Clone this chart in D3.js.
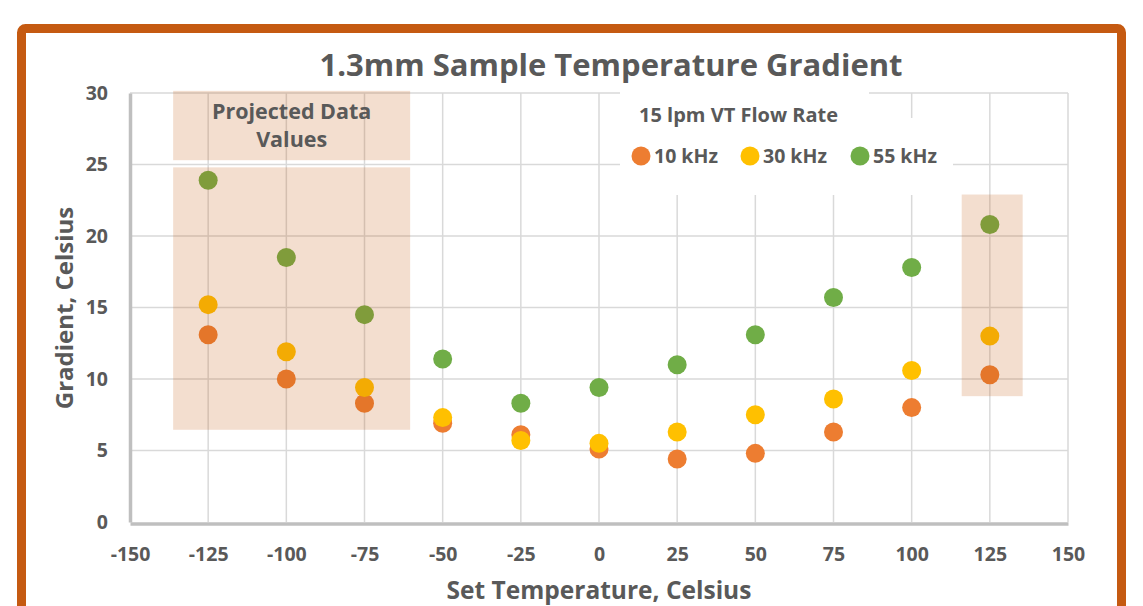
<!DOCTYPE html>
<html><head><meta charset="utf-8">
<script src="https://cdn.jsdelivr.net/npm/d3@7"></script>
<style>html,body{margin:0;padding:0;background:#fff;overflow:hidden}</style>
</head><body>
<svg id="c" width="1143" height="606"></svg>
<script>
const temps = [-125,-100,-75,-50,-25,0,25,50,75,100,125];
const g10 = [13.1,10.0,8.3,6.9,6.1,5.1,4.4,4.8,6.3,8.0,10.3];
const g30 = [15.2,11.9,9.4,7.3,5.7,5.5,6.3,7.5,8.6,10.6,13.0];
const g55 = [23.9,18.5,14.5,11.4,8.3,9.4,11.0,13.1,15.7,17.8,20.8];
const seriesNames = ["10 kHz","30 kHz","55 kHz"];
const seriesColors = ["#ED7D31","#FFC000","#70AD47"];
const xTicks = [-150,-125,-100,-75,-50,-25,0,25,50,75,100,125,150];
const yTicks = [0,5,10,15,20,25,30];
const title = "1.3mm Sample Temperature Gradient";
const legendTitle = "15 lpm VT Flow Rate";
const xLabel = "Set Temperature, Celsius";
const yLabel = "Gradient, Celsius";
// projected-data highlight regions (data units)
const projRegions = [
  {x0:-136.2,x1:-60.4,y0:6.45,y1:24.8},
  {x0:116,x1:135.5,y0:8.8,y1:22.9}
];
const projBox = {x0:-136.2,x1:-60.4,y0:25.3,y1:30.15};

const font = "'Open Sans', sans-serif";
const gray = "#595959";
const svg = d3.select("#c");
svg.append("rect").attr("x",21.5).attr("y",28.5).attr("width",1100).attr("height",640)
  .attr("rx",4).attr("fill","#fff").attr("stroke","#C55A11").attr("stroke-width",9);

const x = d3.scaleLinear().domain([-150,150]).range([130,1068]);
const y = d3.scaleLinear().domain([0,30]).range([522,93]);

// gridlines
const g = svg.append("g");
g.selectAll(".vg").data(xTicks.slice(1)).join("line")
  .attr("x1",d=>x(d)).attr("x2",d=>x(d)).attr("y1",y(30)).attr("y2",y(0))
  .attr("stroke","#D9D9D9").attr("stroke-width",1.5);
g.selectAll(".hg").data(yTicks.slice(1)).join("line")
  .attr("x1",x(-150)).attr("x2",x(150)).attr("y1",d=>y(d)).attr("y2",d=>y(d))
  .attr("stroke","#D9D9D9").attr("stroke-width",1.5);

// axes
const fmt = d => String(d);
const xAxis = d3.axisBottom(x).tickValues(xTicks).tickSize(0).tickPadding(25).tickFormat(fmt);
const yAxis = d3.axisLeft(y).tickValues(yTicks).tickSize(0).tickPadding(22).tickFormat(fmt);
const gx = svg.append("g").attr("transform",`translate(0,${y(0)})`).call(xAxis);
const gy = svg.append("g").attr("transform",`translate(${x(-150)},0)`).call(yAxis);
[gx,gy].forEach(a=>{
  a.select(".domain").attr("stroke","#BFBFBF").attr("stroke-width",3.5);
  a.selectAll("text").attr("font-family",font).attr("font-weight","bold")
   .attr("font-size",19.5).attr("fill",gray);
});
gx.select(".domain").attr("transform","translate(0,1.5)");

// points
const seriesData = [g10,g30,g55];
seriesData.forEach((vals,si)=>{
  svg.append("g").selectAll("circle").data(temps.map((t,i)=>({t,v:vals[i]}))).join("circle")
    .attr("cx",d=>x(d.t)).attr("cy",d=>y(d.v)).attr("r",9.5).attr("fill",seriesColors[si]);
});

// projected regions overlay
svg.append("g").selectAll("rect").data(projRegions.concat([projBox])).join("rect")
  .attr("x",d=>x(d.x0)).attr("y",d=>y(d.y1)).attr("width",d=>x(d.x1)-x(d.x0)).attr("height",d=>y(d.y0)-y(d.y1))
  .attr("fill","#C55A11").attr("fill-opacity",0.2);
const pcx = (x(projBox.x0)+x(projBox.x1))/2;
svg.append("text").attr("x",pcx).attr("y",119).attr("text-anchor","middle")
  .attr("font-family",font).attr("font-weight","bold").attr("font-size",21.5).attr("fill",gray).text("Projected Data");
svg.append("text").attr("x",pcx).attr("y",147).attr("text-anchor","middle")
  .attr("font-family",font).attr("font-weight","bold").attr("font-size",21.5).attr("fill",gray).text("Values");

// legend
svg.append("rect").attr("x",620).attr("y",92).attr("width",249).attr("height",103).attr("fill","#fff");
svg.append("rect").attr("x",620).attr("y",118).attr("width",333).attr("height",77).attr("fill","#fff");
svg.append("text").attr("x",639).attr("y",122).attr("font-family",font).attr("font-weight","bold")
  .attr("font-size",20).attr("fill",gray).text(legendTitle);
const lx = [641,750,860];
seriesNames.forEach((n,i)=>{
  svg.append("circle").attr("cx",lx[i]).attr("cy",156).attr("r",9.5).attr("fill",seriesColors[i]);
  svg.append("text").attr("x",lx[i]+13).attr("y",163).attr("font-family",font).attr("font-weight","bold")
    .attr("font-size",19.5).attr("fill",gray).text(n);
});

// titles
svg.append("text").attr("x",611).attr("y",76).attr("text-anchor","middle").attr("font-family",font)
  .attr("font-weight","bold").attr("font-size",31).attr("fill",gray).text(title);
svg.append("text").attr("x",599).attr("y",599).attr("text-anchor","middle").attr("font-family",font)
  .attr("font-weight","bold").attr("font-size",24.5).attr("fill",gray).text(xLabel);
svg.append("text").attr("transform","translate(73,308) rotate(-90)").attr("text-anchor","middle").attr("font-family",font)
  .attr("font-weight","bold").attr("font-size",24).attr("fill",gray).text(yLabel);
</script>
</body></html>
